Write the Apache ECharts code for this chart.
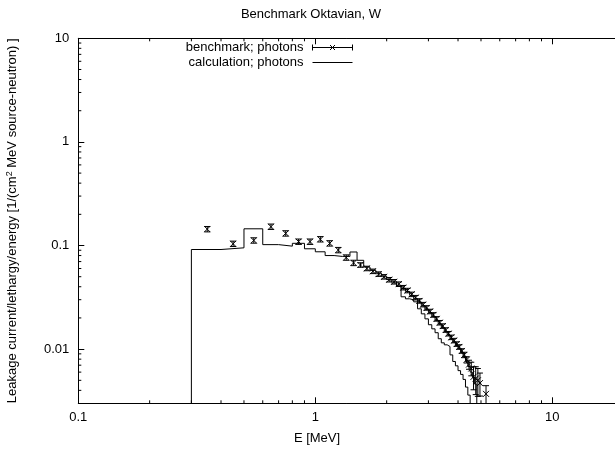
<!DOCTYPE html>
<html><head><meta charset="utf-8">
<script src="https://cdn.jsdelivr.net/npm/echarts@6/dist/echarts.min.js"></script>
<style>html,body{margin:0;padding:0;background:#fff}#c{width:615px;height:454px}</style>
</head><body><div id="c"></div>
<script>
// Benchmark (measured) photon leakage spectrum: bin centres [MeV], values, relative errors
const benchE = [0.35,0.45,0.55,0.65,0.75,0.85,0.95,1.05,1.15,1.25,1.35,1.45,
  1.55,1.65,1.75,1.85,1.95,2.05,2.15,2.25,2.35,2.45,2.55,2.65,2.75,2.85,2.95,3.05,3.15,3.25,
  3.35,3.45,3.55,3.65,3.75,3.85,3.95,4.05,4.15,4.25,4.35,4.45,4.55,4.65,4.75,4.85,4.95,5.25];
const benchV = [0.144,0.104,0.112,0.152,0.131,0.109,0.109,0.115,0.105,0.0904,0.0766,0.068,
  0.0649,0.0601,0.0564,0.0530,0.0499,0.0468,0.0447,0.0424,0.0392,0.0368,0.0338,0.0314,0.0292,0.0269,0.0250,0.0231,0.0214,0.0196,
  0.0180,0.0167,0.0153,0.0141,0.0130,0.0121,0.0112,0.0105,0.0096,0.0088,0.0079,0.0071,0.0065,0.0054,0.0052,0.0050,0.0047,0.0037];
const benchRelErr = [0.06,0.06,0.06,0.06,0.06,0.06,0.06,0.06,0.06,0.06,0.06,0.06,
  0.05,0.05,0.05,0.05,0.05,0.05,0.05,0.05,0.05,0.05,0.05,0.05,0.05,0.05,0.05,0.05,0.05,0.05,
  0.05,0.05,0.05,0.05,0.05,0.05,0.05,0.05,0.05,0.06,0.07,0.1,0.15,0.25,0.3,0.3,0.25,0.2];

// Calculation histogram (block 1): bin edges [MeV] and values
const calcEdges = [0.3,0.4,0.5,0.6,0.7,0.8,0.9,1.0,1.1,1.2,1.3,1.4,1.5,1.6,1.7,1.8,1.9,2.0,2.1,2.2,2.3,2.4,2.5,
  2.6,2.7,2.8,2.9,3.0,3.1,3.2,3.3,3.4,3.5,3.6,3.7,3.8,3.9,4.0,4.1,4.2,4.3,4.4,4.5,4.6,4.7,4.8];
const calcV = [0.0915,0.095,0.145,0.102,0.0986,0.105,0.093,0.087,0.080,0.0785,0.0785,0.0866,
  0.072,0.062,0.0575,0.054,0.0505,0.047,0.0445,
  0.0405,0.0385,0.036,0.033,0.0305,0.0285,0.0262,0.0243,0.0225,0.0207,0.019,0.0175,0.0162,0.0148,
  0.0137,0.0126,0.0117,0.0108,0.0101,0.0093,0.0085,0.0076,0.0068,0.006,0.0053,0.0046];
// Calculation histogram (block 2)
const calc2Edges = [2.2,2.3,2.4,2.5,2.6,2.7,2.8,2.9,3.0,3.1,3.2,3.3,3.4,3.5,3.6,3.7,3.8,3.9,4.0,4.1,4.2,4.3,4.4,4.5];
const calc2V = [0.0405,0.032,0.0306,0.0299,0.0286,0.0245,0.0219,0.0196,0.0172,0.0157,0.0144,0.0126,
  0.0115,0.0110,0.0106,0.0088,0.0076,0.0069,0.0062,0.0057,0.0051,0.0043,0.0036];

// Axis ranges and minor tick positions
const xMin = 0.1, xMax = 20, yMin = 0.003, yMax = 10;
const xMinorTicks = [0.2,0.3,0.4,0.5,0.6,0.7,0.8,0.9,2,3,4,5,6,7,8,9,20];
const yMinorTicks = [0.004,0.005,0.006,0.007,0.008,0.009,0.02,0.03,0.04,0.05,0.06,0.07,0.08,0.09,
  0.2,0.3,0.4,0.5,0.6,0.7,0.8,0.9,2,3,4,5,6,7,8,9];

const FLOOR = 0.001;
function histData(edges, vals, riseFromFloor) {
  const d = riseFromFloor ? [[edges[0], FLOOR]] : [];
  for (let i = 0; i < vals.length; i++) d.push([edges[i], vals[i]]);
  d.push([edges[edges.length - 1], vals[vals.length - 1]]);
  d.push([edges[edges.length - 1], FLOOR]);
  return d;
}
const benchData = benchE.map((e, i) => [e, benchV[i], benchV[i] * (1 - benchRelErr[i]), benchV[i] * (1 + benchRelErr[i])]);

const FONT = 'Liberation Sans, Arial, Helvetica, sans-serif';
const FS = 13;
const lineSt = { stroke: '#000', lineWidth: 1, fill: null };

const chart = echarts.init(document.getElementById('c'), null, { renderer: 'canvas' });
chart.setOption({
  animation: false,
  backgroundColor: '#fff',
  textStyle: { fontFamily: FONT },
  title: {
    text: 'Benchmark Oktavian, W', left: 306, top: 3, textAlign: 'center',
    textStyle: { fontFamily: FONT, fontSize: FS, fontWeight: 'normal', color: '#000' }
  },
  legend: {
    orient: 'vertical', align: 'right', right: 260, top: 41, padding: 0, itemGap: 2,
    itemWidth: 40, itemHeight: 6, selectedMode: false,
    textStyle: { fontFamily: FONT, fontSize: FS, color: '#000', padding: [0, 4, 0, 0] },
    data: [
      { name: 'benchmark; photons',
        icon: 'path://M0,0L0,6M0,3L40,3M40,0L40,6M17.5,0.5L22.5,5.5M22.5,0.5L17.5,5.5',
        itemStyle: { color: 'none', borderColor: '#000', borderWidth: 1 } },
      { name: 'calculation; photons',
        icon: 'path://M0,0L0.01,0M0,3L40,3M0,6L0.01,6',
        itemStyle: { color: 'none', borderColor: '#000', borderWidth: 1 } }
    ]
  },
  grid: { left: 78.3, top: 38.3, right: -8.7, bottom: 50.7, outerBoundsMode: 'none', containLabel: false },
  xAxis: [{
    type: 'log', logBase: 10, min: xMin, max: xMax, position: 'bottom',
    name: 'E [MeV]', nameLocation: 'middle', nameGap: 29,
    nameTextStyle: { fontFamily: FONT, fontSize: FS, color: '#000', padding: [0, 68, 0, 0] },
    axisLine: { show: true, lineStyle: { color: '#000', width: 1 } },
    axisTick: { show: true, inside: true, length: 6, lineStyle: { color: '#000' } },
    axisLabel: { color: '#000', fontFamily: FONT, fontSize: FS, margin: 8, showMaxLabel: false,
      formatter: v => String(parseFloat(Number(v).toPrecision(3))) },
    splitLine: { show: false }, minorTick: { show: false }
  }, {
    type: 'log', logBase: 10, min: xMin, max: xMax, position: 'top',
    axisLine: { show: true, lineStyle: { color: '#000', width: 1 } },
    axisTick: { show: true, inside: true, length: 6, lineStyle: { color: '#000' } },
    axisLabel: { show: false }, splitLine: { show: false }
  }],
  yAxis: [{
    type: 'log', logBase: 10, min: yMin, max: yMax,
    name: 'Leakage current/lethargy/energy [1/(cm{sup|2} MeV source-neutron) ]',
    nameLocation: 'middle', nameGap: 58, nameRotate: 90,
    nameTextStyle: { fontFamily: FONT, fontSize: FS, color: '#000',
      rich: { sup: { fontFamily: FONT, fontSize: 9, color: '#000', verticalAlign: 'top', lineHeight: 15 } } },
    axisLine: { show: true, lineStyle: { color: '#000', width: 1 } },
    axisTick: { show: true, inside: true, length: 6, lineStyle: { color: '#000' } },
    axisLabel: { color: '#000', fontFamily: FONT, fontSize: FS, margin: 9, showMinLabel: false,
      formatter: v => String(parseFloat(Number(v).toPrecision(3))) },
    splitLine: { show: false }
  }],
  series: [
    {
      type: 'custom', name: 'benchmark; photons', xAxisIndex: 0, yAxisIndex: 0, clip: true,
      itemStyle: { color: '#000' }, encode: { x: 0, y: 1 },
      data: benchData,
      renderItem: function (params, api) {
        const x = api.value(0);
        const p = api.coord([x, api.value(1)]);
        const lo = api.coord([x, api.value(2)]);
        const hi = api.coord([x, api.value(3)]);
        const s = 3, c = 3;
        return { type: 'group', children: [
          { type: 'line', shape: { x1: p[0], y1: lo[1], x2: p[0], y2: hi[1] }, style: lineSt },
          { type: 'line', shape: { x1: p[0] - c, y1: lo[1], x2: p[0] + c, y2: lo[1] }, style: lineSt },
          { type: 'line', shape: { x1: p[0] - c, y1: hi[1], x2: p[0] + c, y2: hi[1] }, style: lineSt },
          { type: 'line', shape: { x1: p[0] - s, y1: p[1] - s, x2: p[0] + s, y2: p[1] + s }, style: lineSt },
          { type: 'line', shape: { x1: p[0] - s, y1: p[1] + s, x2: p[0] + s, y2: p[1] - s }, style: lineSt }
        ] };
      }
    },
    {
      type: 'line', name: 'calculation; photons', xAxisIndex: 0, yAxisIndex: 0,
      step: 'end', symbol: 'none', showSymbol: false, clip: true,
      lineStyle: { color: '#000', width: 1 }, itemStyle: { color: '#000' },
      data: histData(calcEdges, calcV, true)
    },
    {
      type: 'line', name: 'calculation; photons', xAxisIndex: 0, yAxisIndex: 0,
      step: 'end', symbol: 'none', showSymbol: false, clip: true,
      lineStyle: { color: '#000', width: 1 }, itemStyle: { color: '#000' },
      data: histData(calc2Edges, calc2V, false)
    },
    {
      type: 'custom', silent: true, clip: false, xAxisIndex: 0, yAxisIndex: 0,
      encode: { x: 0, y: 1 },
      data: xMinorTicks.map(v => [v, yMin]),
      renderItem: function (params, api) {
        const b = api.coord([api.value(0), yMin]);
        const t = api.coord([api.value(0), yMax]);
        return { type: 'group', children: [
          { type: 'line', shape: { x1: b[0], y1: b[1], x2: b[0], y2: b[1] - 3 }, style: lineSt },
          { type: 'line', shape: { x1: t[0], y1: t[1], x2: t[0], y2: t[1] + 3 }, style: lineSt }
        ] };
      }
    },
    {
      type: 'custom', silent: true, clip: false, xAxisIndex: 0, yAxisIndex: 0,
      encode: { x: 0, y: 1 },
      data: yMinorTicks.map(v => [xMin, v]),
      renderItem: function (params, api) {
        const l = api.coord([xMin, api.value(1)]);
        return { type: 'line', shape: { x1: l[0], y1: l[1], x2: l[0] + 3, y2: l[1] }, style: lineSt };
      }
    }
  ]
});
</script>
</body></html>
